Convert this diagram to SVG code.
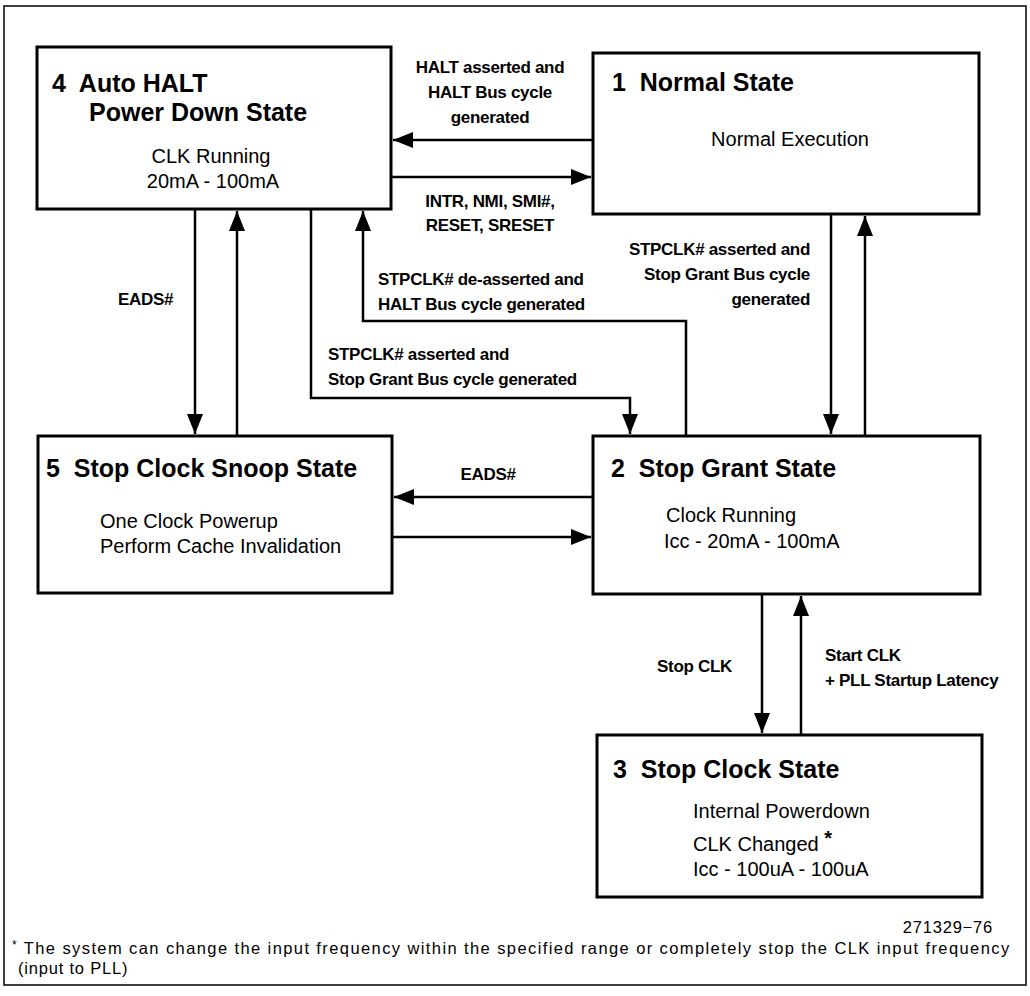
<svg xmlns="http://www.w3.org/2000/svg" width="1030" height="996" viewBox="0 0 1030 996">
<style>
.box{fill:#fff;stroke:#000;stroke-width:3}
.ln{fill:none;stroke:#000;stroke-width:2.5}
.t{font-family:"Liberation Sans",Arial,sans-serif;font-weight:bold;font-size:25px;fill:#000;white-space:pre}
.b{font-family:"Liberation Sans",Arial,sans-serif;font-size:20px;fill:#000}
.l{font-family:"Liberation Sans",Arial,sans-serif;font-weight:bold;font-size:17px;fill:#000;letter-spacing:-0.3px}
.f{font-family:"Liberation Sans",Arial,sans-serif;font-size:16.5px;fill:#000;letter-spacing:0.8px}
</style>
<defs>
<marker id="ah" markerUnits="userSpaceOnUse" markerWidth="20" markerHeight="16" refX="20" refY="8" orient="auto">
<path d="M0,0 L20,8 L0,16 Z" fill="#000"/>
</marker>
</defs>
<rect x="0" y="0" width="1030" height="996" fill="#fff"/>
<rect x="4" y="6" width="1022" height="979" fill="none" stroke="#000" stroke-width="1.5"/>

<g id="connectors">
<path class="ln" d="M593,140 H393" marker-end="url(#ah)"/>
<path class="ln" d="M391,177 H591" marker-end="url(#ah)"/>
<path class="ln" d="M195,209 V434" marker-end="url(#ah)"/>
<path class="ln" d="M237,436 V211" marker-end="url(#ah)"/>
<path class="ln" d="M311,209 V398 H630 V434" marker-end="url(#ah)"/>
<path class="ln" d="M686,436 V321 H363 V211" marker-end="url(#ah)"/>
<path class="ln" d="M831,214 V434" marker-end="url(#ah)"/>
<path class="ln" d="M865,436 V216" marker-end="url(#ah)"/>
<path class="ln" d="M593,497 H394" marker-end="url(#ah)"/>
<path class="ln" d="M392,537 H591" marker-end="url(#ah)"/>
<path class="ln" d="M762,594 V733" marker-end="url(#ah)"/>
<path class="ln" d="M801,735 V596" marker-end="url(#ah)"/>
<g class="l">
<text x="490" y="73" text-anchor="middle">HALT asserted and</text>
<text x="490" y="98" text-anchor="middle">HALT Bus cycle</text>
<text x="490" y="123" text-anchor="middle">generated</text>
<text x="490" y="207" text-anchor="middle">INTR, NMI, SMI#,</text>
<text x="490" y="231" text-anchor="middle">RESET, SRESET</text>
<text x="118" y="305">EADS#</text>
<text x="378" y="285">STPCLK# de-asserted and</text>
<text x="378" y="310">HALT Bus cycle generated</text>
<text x="328" y="360">STPCLK# asserted and</text>
<text x="328" y="385">Stop Grant Bus cycle generated</text>
<text x="810" y="255" text-anchor="end">STPCLK# asserted and</text>
<text x="810" y="280" text-anchor="end">Stop Grant Bus cycle</text>
<text x="810" y="305" text-anchor="end">generated</text>
<text x="488" y="480" text-anchor="middle">EADS#</text>
<text x="657" y="672">Stop CLK</text>
<text x="825" y="661">Start CLK</text>
<text x="825" y="686">+ PLL Startup Latency</text>
</g>
</g>

<g id="node4">
<rect class="box" x="37" y="47" width="354" height="162"/>
<text class="t" x="52" y="92">4  Auto HALT</text>
<text class="t" x="89" y="121">Power Down State</text>
<text class="b" x="211" y="163" text-anchor="middle">CLK Running</text>
<text class="b" x="213" y="188" text-anchor="middle">20mA - 100mA</text>
</g>

<g id="node1">
<rect class="box" x="593" y="53" width="386" height="161"/>
<text class="t" x="612" y="91">1  Normal State</text>
<text class="b" x="790" y="146" text-anchor="middle">Normal Execution</text>
</g>

<g id="node5">
<rect class="box" x="38" y="436" width="354" height="157"/>
<text class="t" x="46" y="477">5  Stop Clock Snoop State</text>
<text class="b" x="100" y="528">One Clock Powerup</text>
<text class="b" x="100" y="553">Perform Cache Invalidation</text>
</g>

<g id="node2">
<rect class="box" x="593" y="436" width="387" height="158"/>
<text class="t" x="611" y="477">2  Stop Grant State</text>
<text class="b" x="666" y="522">Clock Running</text>
<text class="b" x="664" y="548">Icc - 20mA - 100mA</text>
</g>

<g id="node3">
<rect class="box" x="597" y="735" width="385" height="162"/>
<text class="t" x="613" y="778">3  Stop Clock State</text>
<text class="b" x="693" y="818">Internal Powerdown</text>
<text class="b" x="693" y="851">CLK Changed <tspan font-weight="bold" font-size="20" dy="-6">*</tspan></text>
<text class="b" x="693" y="876">Icc - 100uA - 100uA</text>
</g>

<g id="footer">
<text class="f" x="993" y="933" text-anchor="end" font-size="14.5" letter-spacing="0.8">271329−76</text>
<text class="f" x="12" y="954" textLength="998" lengthAdjust="spacing"><tspan font-size="12" dy="-5">*</tspan><tspan dy="5"> The system can change the input frequency within the specified range or completely stop the CLK input frequency</tspan></text>
<text class="f" x="18" y="974">(input to PLL)</text>
</g>
</svg>
